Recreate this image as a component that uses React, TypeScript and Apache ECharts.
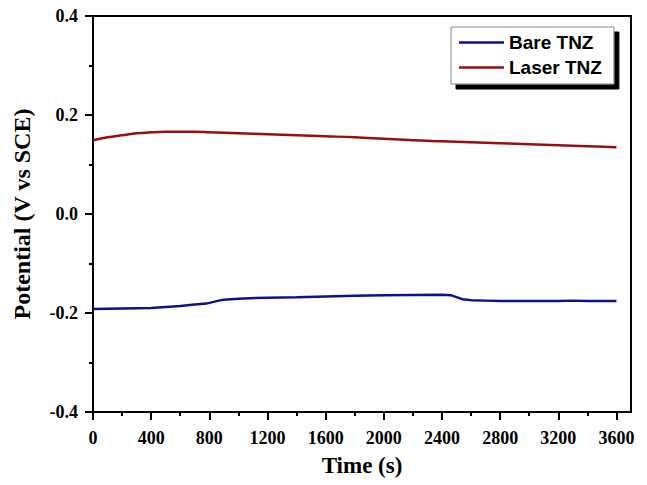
import React, { useEffect, useRef } from "react";
import * as echarts from "echarts";

const bareTime = [0, 200, 400, 500, 600, 700, 780, 850, 900, 1000, 1200, 1400, 1600, 1800, 2000, 2200, 2400, 2460, 2500, 2540, 2600, 2700, 2800, 3000, 3200, 3300, 3400, 3600];
const bareValues = [-0.192, -0.191, -0.190, -0.188, -0.186, -0.183, -0.181, -0.176, -0.173, -0.171, -0.169, -0.168, -0.1665, -0.165, -0.164, -0.1635, -0.163, -0.164, -0.168, -0.172, -0.174, -0.175, -0.176, -0.176, -0.176, -0.175, -0.176, -0.176];

const laserTime = [0, 100, 200, 300, 400, 500, 600, 700, 800, 1000, 1200, 1400, 1600, 1800, 2000, 2200, 2400, 2600, 2800, 3000, 3200, 3400, 3600];
const laserValues = [0.149, 0.155, 0.159, 0.163, 0.165, 0.166, 0.166, 0.166, 0.165, 0.163, 0.161, 0.159, 0.157, 0.155, 0.152, 0.149, 0.147, 0.145, 0.143, 0.141, 0.139, 0.137, 0.135];

const xMajorTicks = [0, 400, 800, 1200, 1600, 2000, 2400, 2800, 3200, 3600];
const xMinorTicks = [200, 600, 1000, 1400, 1800, 2200, 2600, 3000, 3400];

const serif = "'Liberation Serif', 'Times New Roman', serif";
const sans = "'Liberation Sans', Arial, sans-serif";

export default function App() {
  const ref = useRef<HTMLDivElement>(null);
  useEffect(() => {
    if (!ref.current) return;
    const chart = echarts.init(ref.current, null, { renderer: "svg" });
    const tickStyle = { color: "#000", width: 2 };
    chart.setOption({
      animation: false,
      backgroundColor: "#fff",
      grid: {
        left: 93,
        right: 16,
        top: 16,
        bottom: 73,
        show: true,
        borderColor: "#000",
        borderWidth: 2,
        backgroundColor: "transparent",
      },
      legend: {
        orient: "vertical",
        left: 451,
        top: 27,
        padding: [6, 12, 7, 8],
        itemGap: 6,
        itemWidth: 45,
        itemHeight: 2.5,
        icon: "rect",
        backgroundColor: "#fff",
        borderColor: "#888",
        borderWidth: 1,
        borderRadius: 0,
        shadowColor: "#000",
        shadowBlur: 0,
        shadowOffsetX: 5,
        shadowOffsetY: 5,
        textStyle: { fontFamily: sans, fontWeight: "bold", fontSize: 19, color: "#000" },
        data: ["Bare TNZ", "Laser TNZ"],
      },
      xAxis: [
        {
          type: "value",
          min: 0,
          max: 3700,
          name: "Time (s)",
          nameLocation: "middle",
          nameGap: 42,
          nameTextStyle: { fontFamily: serif, fontWeight: "bold", fontSize: 23, color: "#000" },
          axisLine: { show: true, onZero: false, lineStyle: { color: "#000", width: 2 } },
          axisTick: { show: true, inside: false, length: 8, lineStyle: tickStyle, customValues: xMajorTicks },
          axisLabel: {
            customValues: xMajorTicks,
            margin: 17,
            fontFamily: serif,
            fontWeight: "bold",
            fontSize: 18,
            color: "#000",
            formatter: (v: number) => String(v),
          },
          splitLine: { show: false },
        },
        {
          type: "value",
          min: 0,
          max: 3700,
          position: "bottom",
          axisLine: { show: false, onZero: false },
          axisTick: { show: true, inside: false, length: 4, lineStyle: tickStyle, customValues: xMinorTicks },
          axisLabel: { show: false },
          splitLine: { show: false },
        },
      ],
      yAxis: {
        type: "value",
        min: -0.4,
        max: 0.4,
        interval: 0.2,
        name: "Potential (V vs SCE)",
        nameLocation: "middle",
        nameGap: 59,
        nameTextStyle: { fontFamily: serif, fontWeight: "bold", fontSize: 24, color: "#000" },
        axisLine: { show: true, onZero: false, lineStyle: { color: "#000", width: 2 } },
        axisTick: { show: true, inside: false, length: 8, lineStyle: tickStyle },
        minorTick: { show: true, splitNumber: 2, length: 4, lineStyle: tickStyle },
        axisLabel: {
          margin: 15,
          fontFamily: serif,
          fontWeight: "bold",
          fontSize: 18,
          color: "#000",
          formatter: (v: number) => v.toFixed(1),
        },
        splitLine: { show: false },
      },
      series: [
        {
          name: "Bare TNZ",
          type: "line",
          xAxisIndex: 0,
          showSymbol: false,
          symbol: "none",
          color: "#10108f",
          lineStyle: { width: 2.5, color: "#10108f" },
          data: bareTime.map((t, i) => [t, bareValues[i]]),
        },
        {
          name: "Laser TNZ",
          type: "line",
          xAxisIndex: 0,
          showSymbol: false,
          symbol: "none",
          smooth: 0.4,
          color: "#990f0f",
          lineStyle: { width: 2.5, color: "#990f0f" },
          data: laserTime.map((t, i) => [t, laserValues[i]]),
        },
      ],
    });
    return () => chart.dispose();
  }, []);
  return <div ref={ref} style={{ position: "fixed", left: 0, top: 0, width: 647, height: 485 }} />;
}
